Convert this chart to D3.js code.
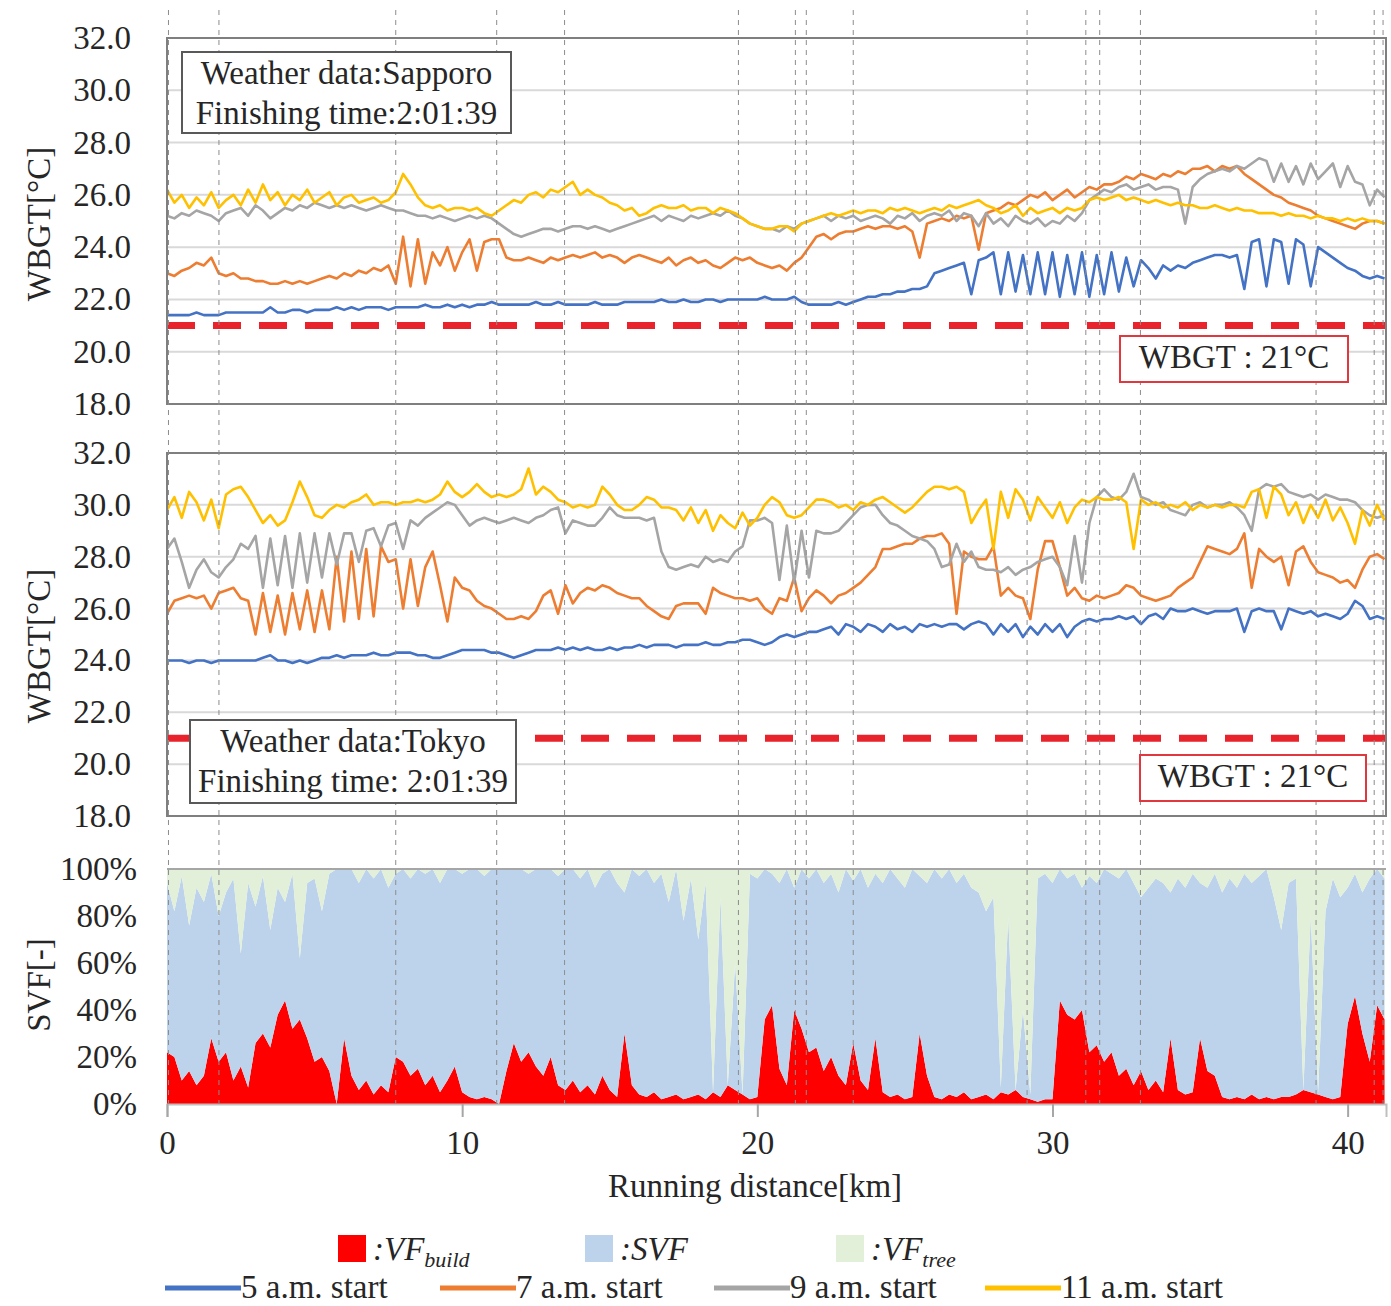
<!DOCTYPE html>
<html>
<head>
<meta charset="utf-8">
<script src="https://cdn.jsdelivr.net/npm/d3@7"></script>
<style>
body { margin: 0; background: #fff; }
svg text { font-family: "Liberation Serif", "Times New Roman", serif; fill: #262626; }
</style>
</head>
<body>
<svg id="chart" width="1391" height="1306"></svg>
<script>
// sampling step of every series along the course [km]
var STEP = 0.25;

var xTicks = [0, 10, 20, 30, 40];
var wbgtTicks = [18, 20, 22, 24, 26, 28, 30, 32];
var svfTicks = [0, 20, 40, 60, 80, 100];
var markKm = [0.05, 1.76, 7.75, 11.17, 13.47, 19.36, 21.29, 21.66, 23.25, 29.14, 31.13, 31.6, 32.98, 38.93, 40.9, 41.2];
var threshold = 21;

var seriesNames = ["5 a.m. start", "7 a.m. start", "9 a.m. start", "11 a.m. start"];
var seriesColors = ["#4472c4", "#ed7d31", "#a5a5a5", "#ffc000"];

///////////////////// SAPPORO ////////////////////
var sapBlue = [
  21.4, 21.4, 21.4, 21.4, 21.5, 21.4, 21.4, 21.4,
  21.5, 21.5, 21.5, 21.5, 21.5, 21.5, 21.7, 21.5,
  21.5, 21.6, 21.6, 21.5, 21.6, 21.6, 21.6, 21.7,
  21.6, 21.7, 21.6, 21.7, 21.7, 21.7, 21.6, 21.7,
  21.7, 21.7, 21.7, 21.8, 21.7, 21.7, 21.8, 21.7,
  21.8, 21.7, 21.8, 21.8, 21.9, 21.8, 21.8, 21.8,
  21.8, 21.8, 21.9, 21.8, 21.8, 21.9, 21.8, 21.8,
  21.8, 21.8, 21.9, 21.8, 21.8, 21.8, 21.9, 21.9,
  21.9, 21.9, 21.9, 22.0, 21.9, 21.9, 22.0, 21.9,
  21.9, 22.0, 22.0, 21.9, 22.0, 22.0, 22.0, 22.0,
  22.0, 22.1, 22.0, 22.0, 22.0, 22.1, 21.9, 21.8,
  21.8, 21.8, 21.8, 21.9, 21.8, 21.9, 22.0, 22.1,
  22.1, 22.2, 22.2, 22.3, 22.3, 22.4, 22.4, 22.5,
  23.0, 23.1, 23.2, 23.3, 23.4, 22.2, 23.5, 23.6,
  23.8, 22.2, 23.8, 22.3, 23.7, 22.2, 23.8, 22.2,
  23.8, 22.1, 23.7, 22.2, 23.8, 22.1, 23.7, 22.2,
  23.8, 22.3, 23.6, 22.5, 23.5, 23.2, 22.8, 23.3,
  23.1, 23.3, 23.2, 23.4, 23.5, 23.6, 23.7, 23.7,
  23.6, 23.7, 22.4, 24.2, 24.3, 22.5, 24.3, 24.2,
  22.6, 24.3, 24.1, 22.5, 24.0, 23.8, 23.6, 23.4,
  23.2, 23.1, 22.9, 22.8, 22.9, 22.8
];
var sapOrange = [
  23.0, 22.9, 23.1, 23.2, 23.4, 23.3, 23.6, 23.0,
  22.9, 23.0, 22.8, 22.8, 22.7, 22.7, 22.6, 22.6,
  22.7, 22.6, 22.7, 22.6, 22.7, 22.8, 22.9, 22.8,
  23.0, 22.9, 23.1, 23.0, 23.2, 23.1, 23.3, 22.6,
  24.4, 22.5, 24.3, 22.6, 23.8, 23.3, 24.0, 23.1,
  23.8, 24.3, 23.1, 24.2, 24.3, 24.3, 23.6, 23.5,
  23.5, 23.6, 23.5, 23.4, 23.6, 23.5, 23.6, 23.7,
  23.6, 23.7, 23.8, 23.6, 23.7, 23.6, 23.4, 23.6,
  23.7, 23.6, 23.5, 23.4, 23.6, 23.3, 23.5, 23.6,
  23.4, 23.5, 23.3, 23.2, 23.4, 23.6, 23.5, 23.6,
  23.4, 23.3, 23.2, 23.3, 23.1, 23.4, 23.6, 24.0,
  24.4, 24.5, 24.3, 24.5, 24.6, 24.6, 24.7, 24.8,
  24.7, 24.8, 24.8, 24.7, 24.8, 24.6, 23.6, 24.9,
  25.0, 25.1, 25.0, 25.2, 25.1, 25.2, 23.9, 25.3,
  25.4, 25.5, 25.7, 25.6, 25.8, 26.0, 25.9, 26.1,
  25.8, 26.0, 26.2, 25.9, 26.1, 26.3, 26.2, 26.4,
  26.4, 26.5, 26.7, 26.6, 26.8, 26.7, 26.6, 26.8,
  26.7, 26.9, 26.8, 27.0, 27.0, 27.1, 26.9, 27.1,
  27.0, 27.1, 26.8, 26.6, 26.4, 26.2, 26.0, 25.9,
  25.7, 25.6, 25.5, 25.4, 25.2, 25.1, 25.0, 24.9,
  24.8, 24.7, 24.9, 25.0, 25.0, 24.9
];
var sapGray = [
  25.2, 25.1, 25.3, 25.2, 25.4, 25.3, 25.2, 25.0,
  25.3, 25.4, 25.5, 25.2, 25.6, 25.4, 25.1, 25.3,
  25.5, 25.4, 25.6, 25.5, 25.7, 25.6, 25.5, 25.6,
  25.5, 25.6, 25.5, 25.4, 25.5, 25.6, 25.5, 25.4,
  25.4, 25.3, 25.2, 25.2, 25.1, 25.2, 25.1, 25.0,
  25.1, 25.2, 25.1, 25.2, 25.1, 24.9, 24.7, 24.5,
  24.4, 24.5, 24.6, 24.7, 24.7, 24.6, 24.7, 24.8,
  24.8, 24.7, 24.8, 24.7, 24.6, 24.7, 24.8, 24.9,
  25.0, 25.1, 25.2, 25.0, 25.2, 25.1, 25.0, 25.2,
  25.1, 25.2, 25.3, 25.2, 25.4, 25.2, 25.1, 24.9,
  24.8, 24.7, 24.7, 24.6, 24.8, 24.7, 24.9, 25.0,
  25.1, 25.2, 25.0, 25.2, 25.1, 25.2, 25.0, 25.1,
  25.2, 25.1, 24.9, 25.2, 25.1, 25.3, 25.0, 25.2,
  25.3, 25.2, 25.4, 25.0, 25.3, 25.2, 24.8, 25.3,
  24.9, 25.1, 24.8, 25.2, 25.0, 24.9, 25.1, 24.8,
  25.0, 24.9, 25.2, 25.0, 25.3, 25.8, 26.0, 26.2,
  26.1, 26.3, 26.4, 26.2, 26.3, 26.4, 26.2, 26.3,
  26.3, 26.2, 24.9, 26.3, 26.6, 26.8, 26.9, 27.0,
  26.9, 27.1, 27.0, 27.2, 27.4, 27.3, 26.5, 27.2,
  26.5, 27.1, 26.4, 27.2, 26.6, 26.9, 27.2, 26.3,
  27.1, 26.5, 26.4, 25.6, 26.2, 25.9
];
var sapYellow = [
  26.2, 25.7, 26.0, 25.5, 25.9, 25.6, 26.1, 25.5,
  25.8, 26.0, 25.6, 26.2, 25.7, 26.4, 25.8, 26.1,
  25.6, 26.0, 25.8, 26.2, 25.7, 25.9, 26.1, 25.6,
  25.9, 26.0, 25.7, 25.8, 25.9, 25.7, 25.8, 26.1,
  26.8, 26.4, 25.9, 25.6, 25.5, 25.6, 25.4, 25.5,
  25.5, 25.4, 25.5, 25.3, 25.2, 25.4, 25.6, 25.8,
  25.7, 26.0, 26.1, 25.9, 26.2, 26.1, 26.3, 26.5,
  26.0, 26.2, 26.0, 25.9, 25.7, 25.6, 25.4, 25.5,
  25.2, 25.3, 25.5, 25.6, 25.5, 25.5, 25.6, 25.4,
  25.5, 25.5, 25.3, 25.5, 25.4, 25.3, 25.1, 24.9,
  24.8, 24.7, 24.7, 24.8, 24.8, 24.6, 24.9, 25.0,
  25.1, 25.2, 25.3, 25.2, 25.3, 25.4, 25.3, 25.4,
  25.4, 25.3, 25.5, 25.4, 25.5, 25.4, 25.3, 25.4,
  25.5, 25.4, 25.6, 25.5, 25.6, 25.7, 25.8, 25.6,
  25.5, 25.3, 25.4, 25.6, 25.2, 25.5, 25.3, 25.4,
  25.5, 25.3, 25.5, 25.4, 25.5, 25.8, 25.9, 25.8,
  25.9, 26.0, 25.8, 25.9, 25.8, 25.7, 25.8, 25.7,
  25.6, 25.7, 25.6, 25.6, 25.5, 25.5, 25.6, 25.5,
  25.4, 25.5, 25.4, 25.4, 25.3, 25.3, 25.3, 25.2,
  25.3, 25.2, 25.2, 25.1, 25.2, 25.1, 25.1, 25.0,
  25.1, 25.0, 25.1, 25.0, 25.0, 24.9
];

///////////////////// TOKYO ////////////////////
var tokBlue = [
  24.0, 24.0, 24.0, 23.9, 24.0, 24.0, 23.9, 24.0,
  24.0, 24.0, 24.0, 24.0, 24.0, 24.1, 24.2, 24.0,
  24.0, 23.9, 24.0, 23.9, 24.0, 24.1, 24.1, 24.2,
  24.1, 24.2, 24.2, 24.2, 24.3, 24.2, 24.2, 24.3,
  24.3, 24.3, 24.2, 24.2, 24.1, 24.1, 24.2, 24.3,
  24.4, 24.4, 24.4, 24.4, 24.3, 24.3, 24.2, 24.1,
  24.2, 24.3, 24.4, 24.4, 24.4, 24.5, 24.4, 24.5,
  24.4, 24.5, 24.4, 24.4, 24.5, 24.4, 24.5, 24.5,
  24.6, 24.5, 24.6, 24.6, 24.6, 24.5, 24.6, 24.6,
  24.6, 24.7, 24.6, 24.6, 24.7, 24.7, 24.8, 24.8,
  24.7, 24.6, 24.7, 24.9, 25.0, 24.9, 25.0, 25.1,
  25.1, 25.2, 25.3, 25.0, 25.4, 25.3, 25.1, 25.4,
  25.3, 25.1, 25.4, 25.2, 25.3, 25.1, 25.4, 25.3,
  25.4, 25.3, 25.4, 25.4, 25.2, 25.4, 25.5, 25.4,
  25.0, 25.4, 25.1, 25.4, 24.9, 25.3, 25.0, 25.4,
  25.1, 25.4, 24.9, 25.3, 25.5, 25.6, 25.5, 25.6,
  25.6, 25.7, 25.6, 25.7, 25.4, 25.7, 25.8, 25.6,
  26.0, 25.9, 25.9, 26.0, 25.9, 25.8, 25.9, 25.9,
  25.9, 26.0, 25.1, 25.9, 26.0, 25.9, 25.9, 25.2,
  26.0, 25.9, 25.8, 25.9, 25.7, 25.8, 25.7, 25.6,
  25.8, 26.3, 26.1, 25.6, 25.7, 25.6
];
var tokOrange = [
  25.8, 26.3, 26.4, 26.5, 26.4, 26.5, 26.0, 26.6,
  26.7, 26.8, 26.4, 26.3, 25.0, 26.6, 25.1, 26.5,
  25.0, 26.6, 25.2, 26.7, 25.1, 26.7, 25.2, 28.0,
  25.5, 28.2, 25.6, 28.3, 25.7, 28.4, 27.8, 27.9,
  26.0, 27.9, 26.1, 27.6, 28.2, 26.9, 25.5, 27.2,
  26.8, 26.7, 26.3, 26.1, 26.0, 25.8, 25.6, 25.6,
  25.7, 25.6, 25.9, 26.5, 26.7, 25.8, 26.9, 26.2,
  26.6, 26.8, 26.7, 26.9, 26.8, 26.6, 26.5, 26.4,
  26.4, 26.1, 25.9, 25.7, 25.6, 26.1, 26.2, 26.2,
  26.2, 25.8, 26.8, 26.6, 26.5, 26.4, 26.4, 26.3,
  26.4, 26.0, 25.8, 26.4, 26.3, 27.2, 25.9, 26.4,
  26.7, 26.5, 26.2, 26.5, 26.6, 26.8, 27.0, 27.3,
  27.6, 28.3, 28.3, 28.4, 28.5, 28.5, 28.7, 28.8,
  28.8, 28.9, 28.5, 25.8, 28.2, 28.0, 27.9, 27.9,
  28.4, 26.5, 26.8, 26.5, 26.4, 25.6, 27.5, 28.6,
  28.6, 27.6, 26.5, 26.8, 26.4, 26.3, 26.5, 26.4,
  26.5, 26.6, 26.9, 26.8, 26.5, 26.4, 26.3, 26.4,
  26.5, 26.8, 27.0, 27.2, 27.8, 28.4, 28.3, 28.2,
  28.1, 28.3, 28.9, 26.8, 28.3, 28.0, 27.8, 28.0,
  26.9, 28.2, 28.4, 27.8, 27.4, 27.3, 27.2, 27.0,
  27.1, 26.8, 27.5, 28.0, 28.1, 27.9
];
var tokGray = [
  28.3, 28.7, 27.8, 26.8, 27.5, 27.9, 27.4, 27.2,
  27.6, 27.9, 28.5, 28.3, 28.8, 26.8, 28.7, 26.9,
  28.8, 26.8, 28.9, 27.0, 28.9, 27.2, 28.9, 27.7,
  28.9, 28.9, 27.8, 29.0, 29.1, 28.4, 29.2, 29.3,
  28.3, 29.4, 29.2, 29.5, 29.7, 29.9, 30.1, 30.0,
  29.6, 29.2, 29.4, 29.5, 29.4, 29.3, 29.4, 29.5,
  29.4, 29.3, 29.5, 29.6, 29.8, 29.9, 28.9, 29.4,
  29.3, 29.2, 29.2, 29.5, 29.9, 29.6, 29.5, 29.5,
  29.5, 29.4, 29.5, 28.2, 27.6, 27.5, 27.6, 27.7,
  27.6, 28.0, 27.8, 27.9, 27.8, 28.2, 28.4, 29.4,
  29.4, 29.5, 29.3, 27.1, 29.2, 27.0, 29.0, 27.2,
  29.0, 28.9, 28.9, 29.0, 29.3, 29.6, 29.9, 30.0,
  30.0, 29.6, 29.3, 29.2, 29.0, 28.8, 28.7, 28.6,
  28.3, 27.6, 27.7, 28.5, 27.8, 28.2, 27.6, 27.5,
  27.5, 27.4, 27.6, 27.3, 27.5, 27.6, 27.8, 27.9,
  28.0, 27.6, 26.9, 28.8, 27.0, 29.3, 30.3, 30.6,
  30.3, 30.2, 30.5, 31.2, 30.3, 30.2, 30.0, 30.1,
  29.8, 29.7, 29.6, 30.0, 30.1, 29.9, 30.0, 30.0,
  30.1, 29.9, 29.6, 29.0, 30.6, 30.8, 30.7, 30.8,
  30.5, 30.4, 30.3, 30.4, 30.2, 30.4, 30.3, 30.2,
  30.2, 30.1, 29.8, 29.6, 29.5, 29.6
];
var tokYellow = [
  29.8, 30.3, 29.5, 30.5, 30.1, 29.4, 30.2, 29.1,
  30.4, 30.6, 30.7, 30.3, 29.8, 29.3, 29.6, 29.2,
  29.4, 30.1, 30.9, 30.3, 29.6, 29.5, 29.8, 30.0,
  29.9, 30.1, 30.2, 30.4, 30.0, 30.1, 30.1, 30.0,
  30.1, 30.1, 30.2, 30.1, 30.2, 30.4, 30.9, 30.5,
  30.3, 30.5, 30.8, 30.5, 30.3, 30.4, 30.3, 30.4,
  30.6, 31.4, 30.4, 30.7, 30.5, 30.2, 30.1, 29.9,
  30.0, 29.9, 30.0, 30.7, 30.4, 30.0, 29.8, 29.8,
  30.0, 30.3, 30.2, 29.9, 29.9, 29.8, 29.4, 29.9,
  29.3, 29.8, 29.0, 29.6, 29.3, 29.1, 29.7, 29.2,
  29.5, 30.0, 30.3, 30.1, 29.6, 29.5, 29.6, 29.9,
  30.2, 30.2, 30.1, 29.9, 30.0, 29.8, 30.1, 30.0,
  30.2, 30.3, 30.1, 29.9, 29.7, 29.9, 30.2, 30.5,
  30.7, 30.7, 30.6, 30.7, 30.5, 29.3, 29.8, 30.2,
  28.3, 30.5, 29.5, 30.6, 30.2, 29.4, 30.3, 29.9,
  29.5, 30.1, 29.3, 29.9, 30.2, 30.1, 30.3, 30.2,
  30.2, 30.3, 30.1, 28.3, 30.2, 30.0, 30.1, 29.9,
  30.0, 29.9, 30.1, 29.8, 30.0, 29.9, 30.0, 29.9,
  30.0, 30.0, 29.9, 30.5, 30.6, 29.5, 30.7, 30.4,
  29.6, 30.1, 29.3, 30.0, 29.5, 30.2, 29.4, 29.9,
  29.3, 28.5, 29.8, 29.2, 30.0, 29.4
];

///////////////////// VIEW FACTORS [%] ////////////////////
var vfBuild = [
  22, 20, 10, 14, 8, 12, 28, 18,
  22, 10, 16, 7, 26, 30, 24, 38,
  44, 32, 36, 28, 18, 20, 14, 0,
  28, 12, 6, 10, 4, 8, 5, 20,
  18, 12, 15, 8, 12, 5, 10, 16,
  5, 3, 2, 3, 2, 0, 14, 26,
  18, 22, 16, 12, 20, 8, 6, 10,
  5, 8, 4, 12, 6, 3, 30, 8,
  4, 3, 5, 2, 3, 4, 2, 3,
  4, 2, 5, 3, 8, 6, 4, 2,
  3, 36, 42, 15, 8, 40, 32, 22,
  24, 14, 20, 12, 8, 26, 10, 6,
  28, 5, 3, 4, 2, 3, 30, 12,
  3, 2, 4, 3, 5, 2, 3, 4,
  2, 5, 4, 6, 3, 2, 1, 2,
  2, 44, 38, 36, 40, 22, 25, 18,
  22, 12, 15, 8, 14, 6, 10, 5,
  28, 6, 4, 5, 28, 14, 12, 3,
  2, 3, 2, 4, 2, 3, 2, 3,
  3, 4, 6, 5, 4, 3, 2, 3,
  34, 46, 30, 18, 42, 36
];
var vfTree = [
  6, 18, 3, 24, 8, 14, 2, 20,
  10, 4, 36, 6, 16, 3, 26, 8,
  14, 2, 38, 6, 4, 18, 2, 0,
  0, 0, 6, 0, 4, 0, 8, 2,
  0, 4, 0, 2, 0, 6, 0, 0,
  2, 0, 0, 3, 0, 0, 0, 0,
  0, 2, 0, 0, 0, 3, 0, 0,
  4, 0, 8, 2, 0, 6, 10, 0,
  3, 0, 6, 2, 14, 0, 22, 4,
  30, 6, 95, 12, 92, 40, 96, 2,
  4, 0, 2, 6, 0, 8, 0, 4,
  0, 6, 2, 10, 0, 5, 0, 8,
  2, 6, 0, 4, 8, 0, 3, 6,
  0, 4, 0, 6, 2, 8, 10, 18,
  12, 93, 20, 94, 60, 96, 4, 2,
  6, 0, 4, 2, 8, 3, 6, 0,
  2, 4, 0, 6, 12, 8, 4, 6,
  10, 4, 8, 2, 6, 8, 2, 10,
  4, 8, 2, 6, 3, 0, 12, 26,
  6, 4, 94, 20, 95, 18, 4, 12,
  8, 2, 10, 4, 0, 4
];
var areaKeys = ["build", "svf", "tree"];
var areaColors = ["#ff0000", "#bdd3ec", "#e2efd9"];


var svg = d3.select('#chart');

var xScale = d3.scaleLinear()
    .domain([0, 41.3])
    .range([167, 1386]);

var kmOf = function (d, i) { return xScale(i * STEP); };


///////////////////// WBGT PANELS ////////////////////
function wbgtPanel(top, bottom) {
    var yScale = d3.scaleLinear().domain([18, 32]).range([bottom, top]);
    var g = svg.append("g");

    g.selectAll(".grid")
        .data(wbgtTicks)
        .enter().append("line")
        .attr("x1", xScale.range()[0]).attr("x2", xScale.range()[1])
        .attr("y1", yScale).attr("y2", yScale)
        .attr("stroke", "#d9d9d9")
        .attr("stroke-width", 2);

    var yAxis = d3.axisLeft(yScale)
        .tickValues(wbgtTicks)
        .tickFormat(d3.format(".1f"))
        .tickSize(0)
        .tickPadding(36);

    g.append("g")
        .attr("transform", "translate(167,0)")
        .call(yAxis)
        .call(function (a) { a.select(".domain").remove(); })
        .attr("font-family", null)
        .attr("font-size", "33px");

    return { g: g, y: yScale };
}

function drawSeries(panel, series) {
    var line = d3.line()
        .x(kmOf)
        .y(function (d) { return panel.y(d); });

    panel.g.selectAll(".series")
        .data(series)
        .enter().append("path")
        .attr("d", line)
        .attr("fill", "none")
        .attr("stroke", function (d, i) { return seriesColors[i]; })
        .attr("stroke-width", 2.6)
        .attr("stroke-linejoin", "round");
}

function drawThreshold(panel) {
    panel.g.append("line")
        .attr("x1", xScale.range()[0]).attr("x2", xScale.range()[1])
        .attr("y1", panel.y(threshold)).attr("y2", panel.y(threshold))
        .attr("stroke", "#e8232b")
        .attr("stroke-width", 7)
        .attr("stroke-dasharray", "28,18");
}

function drawFrame(panel) {
    var r = xScale.range(), d = panel.y.range();
    panel.g.append("rect")
        .attr("x", r[0]).attr("y", d[1])
        .attr("width", r[1] - r[0]).attr("height", d[0] - d[1])
        .attr("fill", "none")
        .attr("stroke", "#7f7f7f")
        .attr("stroke-width", 2);
}

function textBox(x, y, w, h, lines, stroke) {
    var g = svg.append("g");
    g.append("rect")
        .attr("x", x).attr("y", y).attr("width", w).attr("height", h)
        .attr("fill", "#fff")
        .attr("stroke", stroke)
        .attr("stroke-width", 2);
    g.selectAll("text")
        .data(lines)
        .enter().append("text")
        .attr("x", x + w / 2)
        .attr("y", function (d, i) { return y + 32 + i * 40; })
        .attr("text-anchor", "middle")
        .style("font-size", "33px")
        .text(function (d) { return d; });
}

var sapPanel = wbgtPanel(38, 404);
var tokPanel = wbgtPanel(453, 816);


///////////////////// SVF PANEL ////////////////////
var svfY = d3.scaleLinear().domain([0, 100]).range([1104, 869]);

var vfRows = vfBuild.map(function (b, i) {
    return { km: i * STEP, build: b, tree: vfTree[i], svf: Math.max(0, 100 - b - vfTree[i]) };
});

var stack = d3.stack().keys(areaKeys);
var area = d3.area()
    .x(function (d) { return xScale(d.data.km); })
    .y0(function (d) { return svfY(d[0]); })
    .y1(function (d) { return svfY(d[1]); });

svg.append("g")
    .selectAll("path")
    .data(stack(vfRows))
    .enter().append("path")
    .attr("d", area)
    .attr("fill", function (d, i) { return areaColors[i]; });

svg.append("line")
    .attr("x1", 167).attr("x2", 1386)
    .attr("y1", svfY(100)).attr("y2", svfY(100))
    .attr("stroke", "#a6a6a6").attr("stroke-width", 2);

svg.append("g")
    .attr("transform", "translate(167,0)")
    .call(d3.axisLeft(svfY).tickValues(svfTicks).tickFormat(function (d) { return d + "%"; }).tickSize(0).tickPadding(30))
    .call(function (a) { a.select(".domain").remove(); })
    .attr("font-family", null)
    .attr("font-size", "33px");

var xAxis = d3.axisBottom(xScale)
    .tickValues(xTicks)
    .tickSize(13)
    .tickPadding(14)
    .tickFormat(d3.format("d"));

svg.append("g")
    .attr("transform", "translate(0,1104)")
    .call(xAxis)
    .call(function (a) {
        a.select(".domain").attr("stroke", "#bfbfbf").attr("stroke-width", 2);
        a.selectAll(".tick line").attr("stroke", "#a6a6a6").attr("stroke-width", 2);
    })
    .attr("font-family", null)
    .attr("font-size", "33px");


///////////////////// COURSE MARKERS ////////////////////
svg.append("g")
    .selectAll("line")
    .data(markKm)
    .enter().append("line")
    .attr("x1", xScale).attr("x2", xScale)
    .attr("y1", 10).attr("y2", 1104)
    .attr("stroke", "#8c8c8c")
    .attr("stroke-width", 1)
    .attr("stroke-dasharray", "5,5");

drawSeries(sapPanel, [sapBlue, sapOrange, sapGray, sapYellow]);
drawThreshold(sapPanel);
drawFrame(sapPanel);
drawSeries(tokPanel, [tokBlue, tokOrange, tokGray, tokYellow]);
drawThreshold(tokPanel);
drawFrame(tokPanel);

textBox(182, 52, 329, 81, ["Weather data:Sapporo", "Finishing time:2:01:39"], "#595959");
textBox(190, 720, 326, 83, ["Weather data:Tokyo", "Finishing time: 2:01:39"], "#595959");
textBox(1120, 336, 228, 46, ["WBGT : 21°C"], "#e0383e");
textBox(1140, 755, 226, 46, ["WBGT : 21°C"], "#e0383e");


///////////////////// AXIS TITLES ////////////////////
var yTitles = [
    { label: "WBGT[°C]", cy: 224 },
    { label: "WBGT[°C]", cy: 646 },
    { label: "SVF[-]", cy: 985 }
];
svg.selectAll(".ytitle")
    .data(yTitles)
    .enter().append("text")
    .attr("text-anchor", "middle")
    .attr("transform", function (d) { return "translate(50," + d.cy + ")rotate(-90)"; })
    .style("font-size", "33px")
    .text(function (d) { return d.label; });

svg.append("text")
    .attr("x", 755).attr("y", 1197)
    .attr("text-anchor", "middle")
    .style("font-size", "33px")
    .text("Running distance[km]");


///////////////////// LEGEND ////////////////////
var areaLegend = [
    { x: 338, main: ":VF", sub: "build" },
    { x: 585, main: ":SVF", sub: "" },
    { x: 836, main: ":VF", sub: "tree" }
];
var al = svg.append("g").selectAll("g")
    .data(areaLegend)
    .enter().append("g")
    .attr("transform", function (d) { return "translate(" + d.x + ",1235)"; });
al.append("rect")
    .attr("width", 28).attr("height", 27)
    .attr("fill", function (d, i) { return areaColors[i]; });
var at = al.append("text")
    .attr("x", 35).attr("y", 25)
    .style("font-size", "33px")
    .style("font-style", "italic");
at.append("tspan").text(function (d) { return d.main; });
at.append("tspan")
    .attr("dy", 7)
    .style("font-size", "22px")
    .text(function (d) { return d.sub; });

var lineLegendX = [165, 440, 714, 985];
var ll = svg.append("g").selectAll("g")
    .data(seriesNames)
    .enter().append("g")
    .attr("transform", function (d, i) { return "translate(" + lineLegendX[i] + ",1288)"; });
ll.append("line")
    .attr("x1", 0).attr("x2", 76)
    .attr("stroke", function (d, i) { return seriesColors[i]; })
    .attr("stroke-width", 5);
ll.append("text")
    .attr("x", 76).attr("y", 10)
    .style("font-size", "33px")
    .text(function (d) { return d; });
</script>
</body>
</html>
